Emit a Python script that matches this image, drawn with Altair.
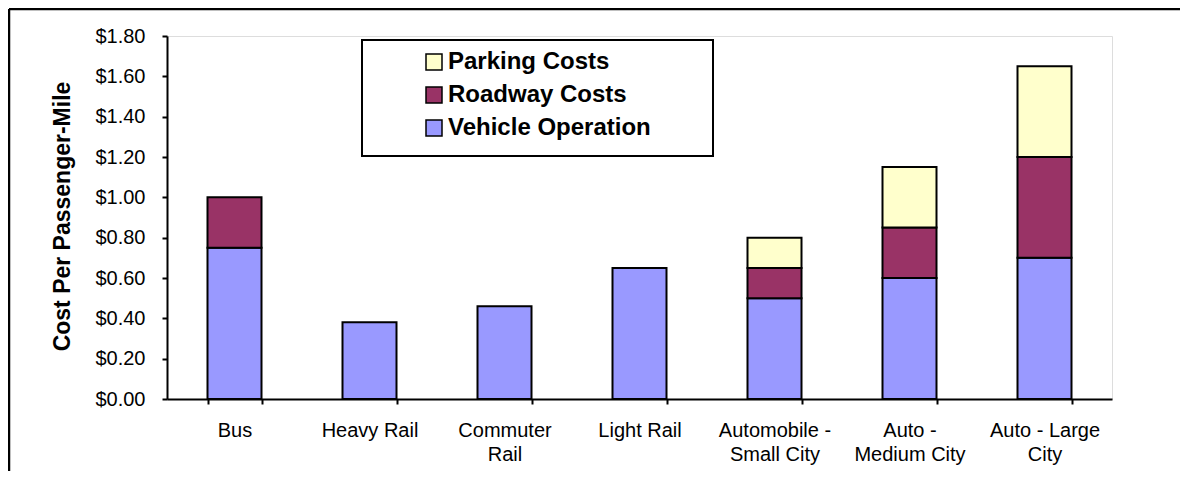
import altair as alt
import pandas as pd

# ---- data ----
categories = ["Bus", "Heavy Rail", "Commuter Rail", "Light Rail",
              "Automobile - Small City", "Auto - Medium City", "Auto - Large City"]
category_lines = [["Bus"], ["Heavy Rail"], ["Commuter", "Rail"], ["Light Rail"],
                  ["Automobile -", "Small City"], ["Auto -", "Medium City"],
                  ["Auto - Large", "City"]]
vehicle_operation = [0.75, 0.38, 0.46, 0.65, 0.50, 0.60, 0.70]
roadway_costs = [0.25, 0.0, 0.0, 0.0, 0.15, 0.25, 0.50]
parking_costs = [0.0, 0.0, 0.0, 0.0, 0.15, 0.30, 0.45]
series_names = ["Vehicle Operation", "Roadway Costs", "Parking Costs"]
series_colors = ["#9999FF", "#993366", "#FFFFCC"]
legend_order = ["Parking Costs", "Roadway Costs", "Vehicle Operation"]
y_ticks = [0.0, 0.2, 0.4, 0.6, 0.8, 1.0, 1.2, 1.4, 1.6, 1.8]
y_title = "Cost Per Passenger-Mile"

rows = []
for i, cat in enumerate(categories):
    for k, (name, vals) in enumerate(zip(series_names,
                                         [vehicle_operation, roadway_costs, parking_costs])):
        if vals[i] > 0:
            rows.append({"category": cat, "series": name, "value": vals[i], "order": k})
df = pd.DataFrame(rows)

color_map = dict(zip(series_names, series_colors))

# multi-line axis labels
expr = "datum.value"
for cat, lines in reversed(list(zip(categories, category_lines))):
    arr = "[" + ",".join("'" + l + "'" for l in lines) + "]"
    expr = f"datum.value == '{cat}' ? {arr} : ({expr})"

FONT = "Liberation Sans"
one = pd.DataFrame({"a": [0]})

frame_left = alt.Chart(one).mark_rule(color="black", strokeWidth=2.5).encode(
    x=alt.value(-158), y=alt.value(-27), y2=alt.value(700))
frame_top = alt.Chart(one).mark_rule(color="black", strokeWidth=2.5).encode(
    x=alt.value(-158), x2=alt.value(1300), y=alt.value(-27))

legend_box = alt.Chart(one).mark_rect(
    fill="white", stroke="black", strokeWidth=2
).encode(x=alt.value(195), x2=alt.value(546), y=alt.value(4), y2=alt.value(120))

bars = alt.Chart(df).mark_bar(stroke="black", strokeWidth=2).encode(
    x=alt.X("category:N", sort=categories,
            scale=alt.Scale(paddingInner=0.6, paddingOuter=0.3),
            axis=alt.Axis(title=None, labelAngle=0, labelExpr=expr, tickBand="extent",
                          labelFont=FONT, labelFontSize=20, labelColor="black",
                          labelLineHeight=24, labelPadding=16, tickSize=5,
                          tickColor="black", tickWidth=2, domainColor="black",
                          domainWidth=2, labelBaseline="top")),
    y=alt.Y("value:Q", stack="zero",
            scale=alt.Scale(domain=[0, 1.8], nice=False),
            axis=alt.Axis(values=y_ticks, format="$.2f", title=y_title, grid=False,
                          labelFont=FONT, labelFontSize=20, labelColor="black",
                          labelPadding=17, tickSize=5, tickColor="black", tickWidth=2,
                          domainColor="black", domainWidth=2,
                          titleFont=FONT, titleFontSize=23, titleFontWeight="bold",
                          titleColor="black", titleX=-105, titleY=180,
                          titleBaseline="middle", titleAngle=270, titleAlign="center")),
    color=alt.Color("series:N",
                    scale=alt.Scale(domain=legend_order,
                                    range=[color_map[s] for s in legend_order]),
                    legend=alt.Legend(title=None, orient="none", legendX=255, legendY=14,
                                      symbolType="square", symbolSize=256,
                                      symbolStrokeColor="black", symbolStrokeWidth=1.5,
                                      labelFont=FONT, labelFontSize=24,
                                      labelFontWeight="bold", labelColor="black",
                                      labelLimit=600, labelOffset=2, rowPadding=9,
                                      padding=0)),
    order=alt.Order("order:Q"),
)

chart = alt.layer(frame_left, frame_top, legend_box, bars).properties(
    width=945, height=363,
    autosize=alt.AutoSizeParams(type="none"),
    padding={"left": 159, "top": 28, "right": 68, "bottom": 72},
).configure_view(stroke="#808080", strokeWidth=2).configure(background="white")

chart.save("out.html", embed_options={"renderer": "svg", "actions": False})
